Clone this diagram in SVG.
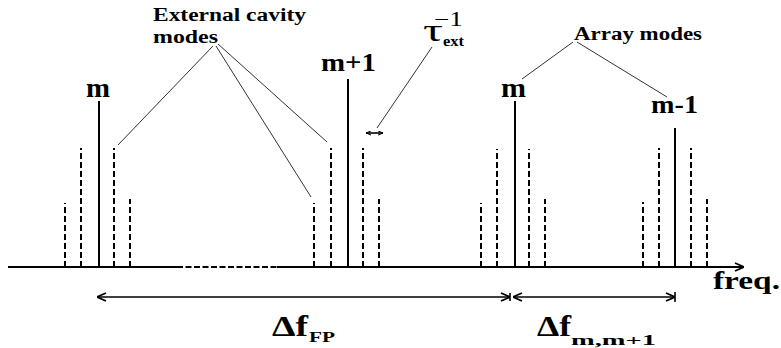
<svg xmlns="http://www.w3.org/2000/svg" width="781" height="348" viewBox="0 0 781 348">
<style>
.t{font-family:'Liberation Serif','DejaVu Serif',serif;font-weight:700;fill:#000}
.n{font-family:'Liberation Serif','DejaVu Serif',serif;fill:#000}
.sol{stroke:#000;stroke-width:2;fill:none}
.dsh{stroke:#000;stroke-width:2;stroke-dasharray:6 3;fill:none}
.ld{stroke:#333;stroke-width:1;fill:none}
.ax{stroke:#000;stroke-width:2.2;fill:none}
.dim{stroke:#000;stroke-width:1.6;fill:none}
</style>
<defs>
<marker id="ah" viewBox="0 0 10 10" refX="10" refY="5" markerWidth="10" markerHeight="10" markerUnits="userSpaceOnUse" orient="auto-start-reverse">
<path d="M1,1 L10,5 L1,9" fill="none" stroke="#000" stroke-width="1.8"/>
</marker>
<marker id="sa" viewBox="0 0 6 6" refX="6" refY="3" markerWidth="5" markerHeight="5" markerUnits="userSpaceOnUse" orient="auto-start-reverse">
<path d="M0,0.5 L6,3 L0,5.5" fill="none" stroke="#000" stroke-width="1.2"/>
</marker>
</defs>

<g id="axis">
<path class="ax" d="M8,267 H177"/>
<path class="ax" d="M177,267 H277" stroke-dasharray="6 2.5"/>
<path class="ax" d="M277,267 H744" marker-end="url(#ah)"/>
<text class="t" x="713" y="289" font-size="26" textLength="67" lengthAdjust="spacingAndGlyphs">freq.</text>
</g>

<g id="group1">
<path class="dsh" d="M65,267 V203"/>
<path class="dsh" d="M81,267 V148"/>
<path class="sol" d="M99,267 V101"/>
<path class="dsh" d="M114,267 V148"/>
<path class="dsh" d="M130,267 V199"/>
<text class="t" x="86" y="97" font-size="27" textLength="24" lengthAdjust="spacingAndGlyphs">m</text>
</g>

<g id="group2">
<path class="dsh" d="M314,267 V203"/>
<path class="dsh" d="M331,267 V148"/>
<path class="sol" d="M348,267 V79"/>
<path class="dsh" d="M363,267 V148"/>
<path class="dsh" d="M379,267 V199"/>
<text class="t" x="321" y="71" font-size="25" textLength="55" lengthAdjust="spacingAndGlyphs">m+1</text>
</g>

<g id="group3">
<path class="dsh" d="M481,267 V203"/>
<path class="dsh" d="M497,267 V149"/>
<path class="sol" d="M515,267 V101"/>
<path class="dsh" d="M529,267 V149"/>
<path class="dsh" d="M545,267 V199"/>
<text class="t" x="501" y="97" font-size="27" textLength="25" lengthAdjust="spacingAndGlyphs">m</text>
</g>

<g id="group4">
<path class="dsh" d="M643,267 V202"/>
<path class="dsh" d="M659,267 V148"/>
<path class="sol" d="M675,267 V128"/>
<path class="dsh" d="M691,267 V148"/>
<path class="dsh" d="M707,267 V199"/>
<text class="t" x="651" y="113" font-size="25" textLength="47" lengthAdjust="spacingAndGlyphs">m-1</text>
</g>

<g id="ext-cavity-label">
<text class="t" x="153" y="21" font-size="18" textLength="153" lengthAdjust="spacingAndGlyphs">External cavity</text>
<text class="t" x="153" y="43" font-size="18" textLength="65" lengthAdjust="spacingAndGlyphs">modes</text>
</g>

<g id="array-label">
<text class="t" x="574" y="40" font-size="18" textLength="128" lengthAdjust="spacingAndGlyphs">Array modes</text>
</g>

<g id="tau-label">
<text class="n" x="423" y="41" font-size="32" textLength="20" lengthAdjust="spacingAndGlyphs">τ</text>
<text class="t" x="443" y="46" font-size="14" textLength="21" lengthAdjust="spacingAndGlyphs">ext</text>
<text class="n" x="434" y="26" font-size="20" textLength="29" lengthAdjust="spacingAndGlyphs">−1</text>
</g>

<g id="df-fp-label">
<text class="t" x="272" y="336" font-size="29" textLength="36" lengthAdjust="spacingAndGlyphs">Δf</text>
<text class="t" x="309" y="342" font-size="15" textLength="26" lengthAdjust="spacingAndGlyphs">FP</text>
</g>

<g id="df-m-label">
<text class="t" x="537" y="336" font-size="29" textLength="34" lengthAdjust="spacingAndGlyphs">Δf</text>
<text class="t" x="571" y="345" font-size="15" textLength="85" lengthAdjust="spacingAndGlyphs">m,m+1</text>
</g>

<g id="connectors">
<path class="ld" d="M213,46 L118,145"/>
<path class="ld" d="M216,46 L311,197"/>
<path class="ld" d="M218,44 L327,142" stroke="#888"/>
<path class="ld" d="M432,47 L377,128"/>
<path class="dim" d="M366,133 H383" stroke-width="1" marker-start="url(#sa)" marker-end="url(#sa)"/>
<path class="ld" d="M573,42 L522,79"/>
<path class="ld" d="M577,42 L667,97"/>
<path class="dim" d="M97,297 H510" marker-start="url(#ah)" marker-end="url(#ah)"/>
<path class="dim" d="M513,297 H675" marker-start="url(#ah)" marker-end="url(#ah)"/>
<path class="dim" d="M675,292 V302"/>
<path class="dim" d="M510,293 V301"/>
</g>
</svg>
